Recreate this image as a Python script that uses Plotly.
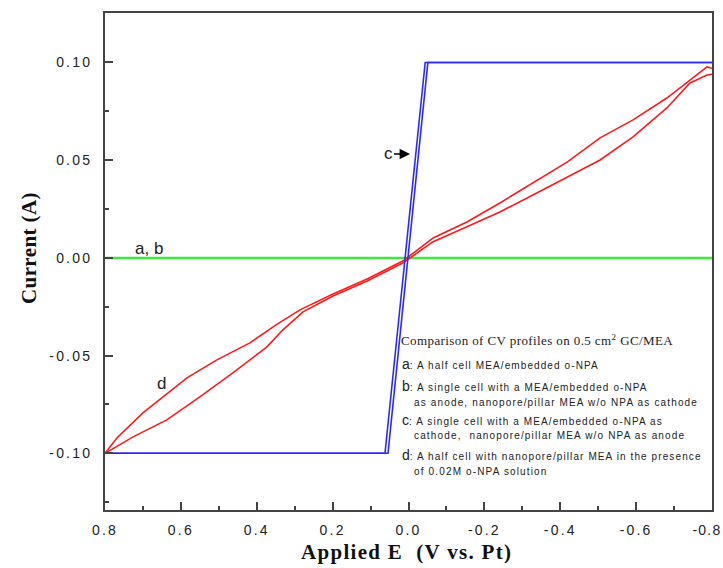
import plotly.graph_objects as go

# ---- data ----
green_E = [0.80, -0.80]
green_I = [0.0, 0.0]

blue1_E = [0.80, 0.062, -0.044, -0.80]
blue1_I = [-0.100, -0.100, 0.100, 0.100]
blue2_E = [0.80, 0.054, -0.051, -0.80]
blue2_I = [-0.100, -0.100, 0.100, 0.100]

red_fwd_E = [0.80, 0.726, 0.637, 0.550, 0.463, 0.373, 0.331, 0.278, 0.199, 0.109, 0.014,
             -0.065, -0.154, -0.241, -0.328, -0.418, -0.505, -0.592, -0.681, -0.742, -0.787, -0.80]
red_fwd_I = [-0.100, -0.0916, -0.0829, -0.0711, -0.0588, -0.0455, -0.0368, -0.0276, -0.0195, -0.0118, -0.0025,
             0.0083, 0.0159, 0.0235, 0.0322, 0.0414, 0.0501, 0.0619, 0.0767, 0.0895, 0.0936, 0.0940]
red_rev_E = [-0.80, -0.787, -0.742, -0.681, -0.592, -0.505, -0.418, -0.328, -0.241, -0.154, -0.065,
             0.014, 0.109, 0.199, 0.286, 0.347, 0.418, 0.505, 0.584, 0.700, 0.768, 0.80]
red_rev_I = [0.097, 0.0977, 0.091, 0.0818, 0.0706, 0.0614, 0.049, 0.0384, 0.0281, 0.0184, 0.0102,
             -0.0015, -0.0108, -0.0185, -0.0266, -0.0340, -0.0435, -0.0522, -0.0614, -0.0793, -0.092, -0.100]

x_tickvals = [0.8, 0.6, 0.4, 0.2, 0.0, -0.2, -0.4, -0.6, -0.8]
x_ticktext = ["0.8", "0.6", "0.4", "0.2", "0.0", "-0.2", "-0.4", "-0.6", "-0.8"]
y_tickvals = [0.10, 0.05, 0.00, -0.05, -0.10]
y_ticktext = ["0.10", "0.05", "0.00", "-0.05", "-0.10"]

legend_title = "Comparison of CV profiles on 0.5 cm<sup>2</sup> GC/MEA"
legend_lines = [
    ("a", ": A half cell MEA/embedded o-NPA", ""),
    ("b", ": A single cell with a MEA/embedded o-NPA", ""),
    ("", "as anode, nanopore/pillar MEA w/o NPA as cathode", "indent"),
    ("c", ": A single cell with a MEA/embedded o-NPA as", ""),
    ("", "cathode,  nanopore/pillar MEA w/o NPA as anode", "indent"),
    ("d", ": A half cell with nanopore/pillar MEA in the presence", ""),
    ("", "of 0.02M o-NPA solution", "indent"),
]
legend_y_px = [364, 386, 402, 420, 435, 455, 471]


def spaced(s, ls):
    return "<span style='letter-spacing:%spx'>%s</span>" % (ls, s)


x_ticklabels = [spaced(t, 2.2) for t in x_ticktext]
# keep the last label inside the page (as in the reference)
x_ticklabels[-1] = spaced(x_ticktext[-1] + "\u00a0\u00a0", 1.2)

fig = go.Figure()
fig.add_trace(go.Scatter(x=green_E, y=green_I, mode="lines",
                         line=dict(color="#3fe83f", width=2.5), showlegend=False))
fig.add_trace(go.Scatter(x=red_fwd_E, y=red_fwd_I, mode="lines",
                         line=dict(color="#ff1a1a", width=1.6), showlegend=False))
fig.add_trace(go.Scatter(x=red_rev_E, y=red_rev_I, mode="lines",
                         line=dict(color="#ff1a1a", width=1.6), showlegend=False))
fig.add_trace(go.Scatter(x=blue1_E, y=blue1_I, mode="lines",
                         line=dict(color="#2a2aff", width=1.6), showlegend=False))
fig.add_trace(go.Scatter(x=blue2_E, y=blue2_I, mode="lines",
                         line=dict(color="#2a2aff", width=1.6), showlegend=False))

L, R, T, B = 105, 11, 13, 58
W, H = 723, 568
pw, ph = W - L - R, H - T - B


def px(x):
    return (x - L) / pw


def py(y):
    return (H - B - y) / ph


ann = []
ann.append(dict(text="a, b", x=px(133), y=py(248), xref="paper", yref="paper",
                xanchor="left", yanchor="middle", showarrow=False,
                font=dict(family="Arial, Liberation Sans", size=17, color="#222")))
ann.append(dict(text="d", x=px(155), y=py(383), xref="paper", yref="paper",
                xanchor="left", yanchor="middle", showarrow=False,
                font=dict(family="Arial, Liberation Sans", size=17, color="#222")))
ann.append(dict(text="c", x=px(410), y=py(154), xref="paper", yref="paper",
                ax=-22, ay=0, showarrow=True, arrowhead=2, arrowsize=1.3, arrowwidth=1.6,
                arrowcolor="black", standoff=0,
                font=dict(family="Arial, Liberation Sans", size=17, color="#222")))
ann.append(dict(text=spaced(legend_title, 0.4), x=px(399), y=py(340), xref="paper", yref="paper",
                xanchor="left", yanchor="middle", showarrow=False,
                font=dict(family="Times New Roman, Liberation Serif", size=13, color="#222")))
for (letter, rest, kind), ypx in zip(legend_lines, legend_y_px):
    if kind == "indent":
        txt = spaced(rest, 1.15)
        xx = 412
    else:
        txt = "<span style='font-size:14px'>" + letter + "</span>" + spaced(rest, 1.1)
        xx = 400
    ann.append(dict(text=txt, x=px(xx), y=py(ypx), xref="paper", yref="paper",
                    xanchor="left", yanchor="middle", showarrow=False,
                    font=dict(family="Arial, Liberation Sans", size=10, color="#222")))
ann.append(dict(text="<b>" + spaced("Current (A)", 0.4) + "</b>", x=px(29), y=py(248),
                xref="paper", yref="paper",
                textangle=-90, showarrow=False, xanchor="center", yanchor="middle",
                font=dict(family="Times New Roman, Liberation Serif", size=21, color="#111")))
ann.append(dict(text="<b>" + spaced("Applied E  (V vs. Pt)", 1.3) + "</b>", x=px(406), y=py(552),
                xref="paper", yref="paper",
                showarrow=False, xanchor="center", yanchor="middle",
                font=dict(family="Times New Roman, Liberation Serif", size=21, color="#111")))

axis_common = dict(showgrid=False, zeroline=False, showline=True, linecolor="#444", linewidth=2,
                   mirror=True, ticks="inside", tickcolor="#444", tickwidth=1.5, ticklen=8,
                   automargin=False, ticklabeloverflow="allow",
                   tickfont=dict(family="Arial, Liberation Sans", size=14, color="#222"))

fig.update_layout(
    width=W, height=H,
    margin=dict(l=L, r=R, t=T, b=B, autoexpand=False),
    paper_bgcolor="white", plot_bgcolor="white",
    annotations=ann,
    xaxis=dict(range=[0.8, -0.8], tickvals=x_tickvals, ticktext=x_ticklabels,
               minor=dict(dtick=0.1, ticks="inside", ticklen=4, tickcolor="#444", tickwidth=1.5,
                          tick0=0),
               ticklabelstandoff=6, **axis_common),
    yaxis=dict(range=[-0.129, 0.1253], tickvals=y_tickvals, ticktext=[spaced(t, 2.2) for t in y_ticktext],
               minor=dict(dtick=0.025, ticks="inside", ticklen=4, tickcolor="#444", tickwidth=1.5,
                          tick0=0),
               ticklabelstandoff=8, **axis_common),
)

fig.write_html("out.html", config={"displayModeBar": False},
               post_script="document.body.style.margin='0';document.body.style.overflow='hidden';")
